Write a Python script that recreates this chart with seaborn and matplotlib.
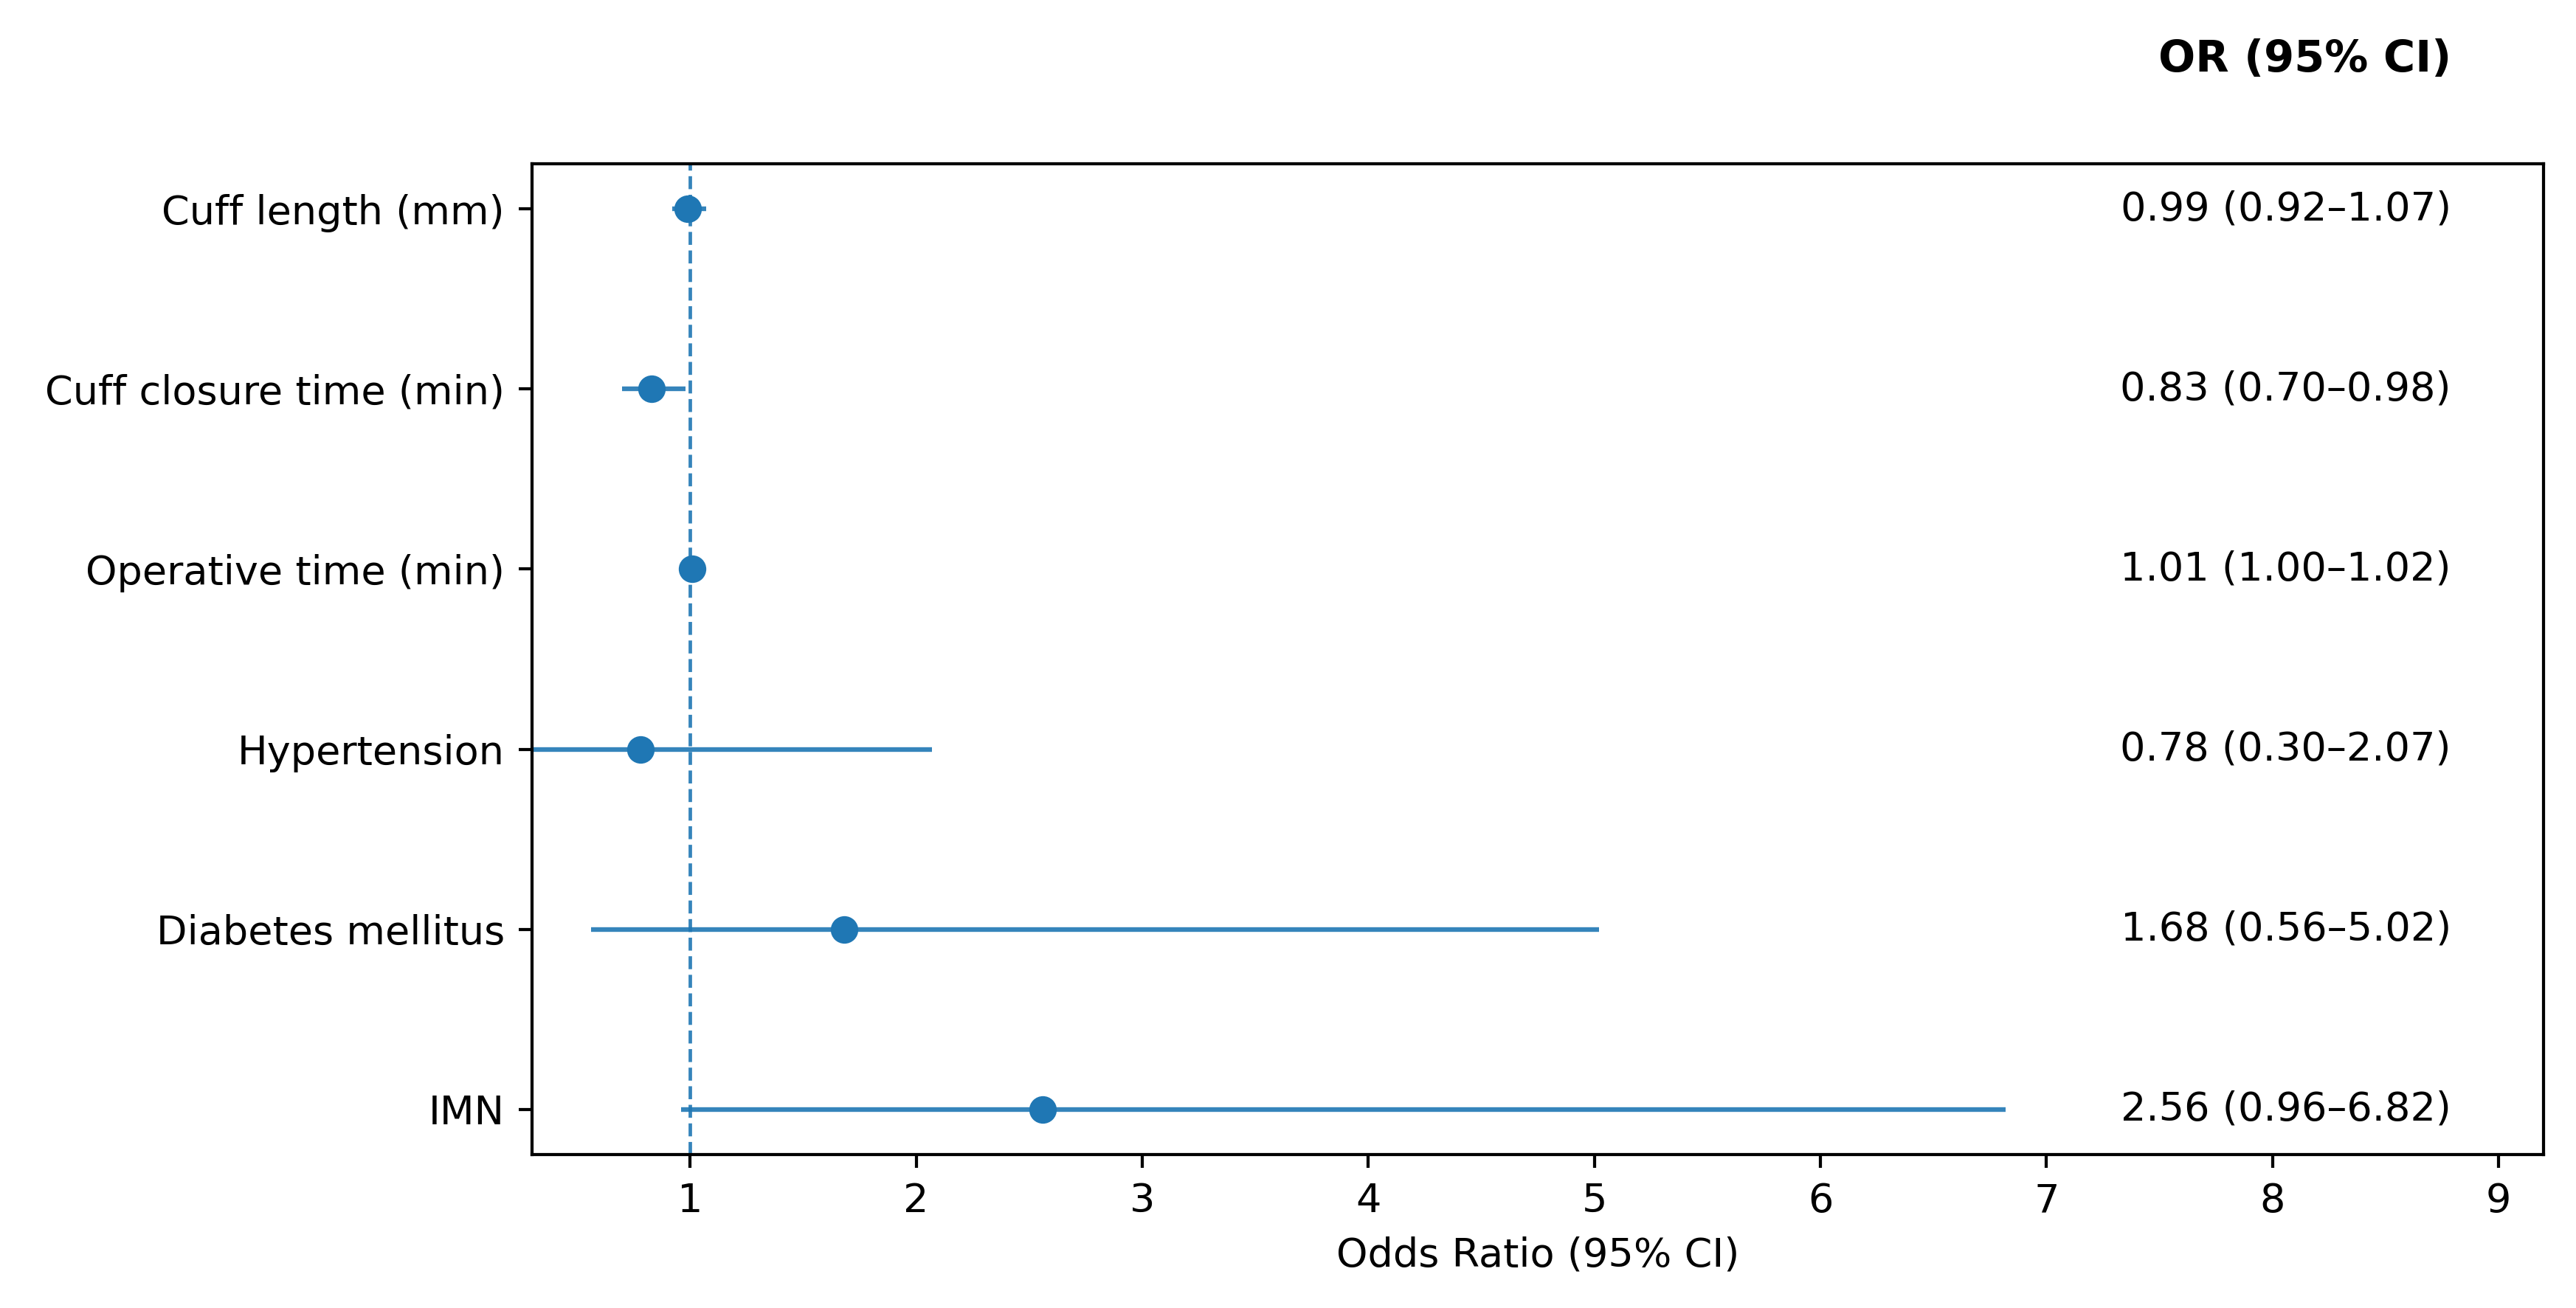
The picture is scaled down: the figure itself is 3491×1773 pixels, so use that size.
import matplotlib
matplotlib.use("Agg")
import matplotlib.pyplot as plt
import matplotlib.transforms as mtransforms
import numpy as np
import pandas as pd
import seaborn as sns

# odds ratios with 95% CI, top to bottom
variables = ["Cuff length (mm)", "Cuff closure time (min)", "Operative time (min)",
             "Hypertension", "Diabetes mellitus", "IMN"]
odds_ratio = [0.99, 0.83, 1.01, 0.78, 1.68, 2.56]
ci_low = [0.92, 0.70, 1.00, 0.30, 0.56, 0.96]
ci_high = [1.07, 0.98, 1.02, 2.07, 5.02, 6.82]
x_ticks = [1, 2, 3, 4, 5, 6, 7, 8, 9]

df = pd.DataFrame({"variable": variables, "OR": odds_ratio,
                   "lo": ci_low, "hi": ci_high})
df["pos"] = np.arange(len(df))

plt.rcParams["font.family"] = ["DejaVu Sans"]
plt.rcParams["font.size"] = 10.25
fig = plt.figure(figsize=(3491 / 380, 1773 / 380), dpi=380)
ax = fig.add_axes([0.2065, 0.1173, 0.781, 0.7575])

# confidence intervals
ax.hlines(df["pos"], df["lo"], df["hi"], color="C0", lw=1.2, alpha=0.9)
# point estimates
sns.scatterplot(data=df, x="OR", y="pos", ax=ax, color="C0", s=50,
                linewidth=0, zorder=3)

# reference line at OR = 1
ax.axvline(1, color="C0", linestyle="--", lw=0.9, alpha=0.9)

ax.set_yticks(df["pos"])
ax.set_yticklabels(df["variable"])
ax.set_ylim(len(df) - 0.75, -0.25)
ax.set_xlim(0.3, 9.2)
ax.set_xticks(x_ticks)
ax.set_xlabel("Odds Ratio (95% CI)")
ax.set_ylabel("")

# OR (95% CI) column
trans = mtransforms.blended_transform_factory(ax.transAxes, ax.transData)
for _, r in df.iterrows():
    ax.text(0.954, r["pos"], f"{r['OR']:.2f} ({r['lo']:.2f}\u2013{r['hi']:.2f})",
            transform=trans, ha="right", va="center")
ax.text(0.954, 1.1057, "OR (95% CI)", transform=ax.transAxes, ha="right",
        va="center", fontsize=11.2, fontweight="bold")

fig.savefig("out.png", dpi=380)
